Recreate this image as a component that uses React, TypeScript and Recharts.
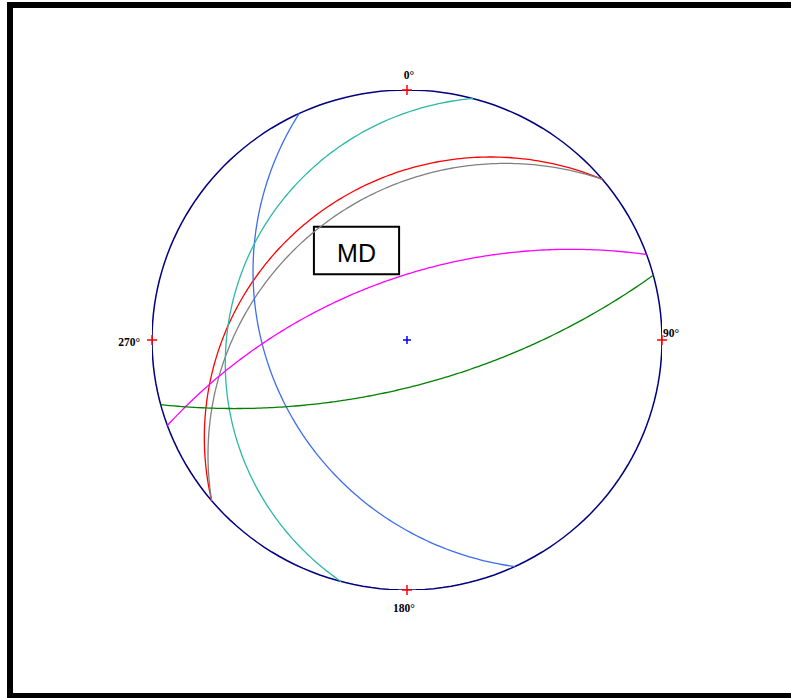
import React from 'react';
import { ComposedChart, Line, XAxis, YAxis, ReferenceDot, ReferenceArea } from 'recharts';

// compass ticks on the primitive
const tickLabels = ['0°', '90°', '180°', '270°'];
const tickAzimuths = [0, 90, 180, 270];

// planes plotted as great circles (strike by right-hand rule, dip in degrees)
const planeNames = ['P1', 'P2', 'P3', 'P4', 'P5', 'P6'];
const strikes = [230, 230, 155, 195, 250, 75];
const dips = [27, 31, 33, 20, 62, 69];
const planeColors = ['#ff0000', '#808080', '#3d6cf0', '#2ab8a8', '#ff00ff', '#008000'];

const boxLabel = 'MD';

const rad = (d: number) => (d * Math.PI) / 180;

// equal-angle (Wulff) lower hemisphere projection of a line
const project = (trend: number, plunge: number) => {
  const r = Math.tan(Math.PI / 4 - plunge / 2);
  return { x: r * Math.sin(trend), y: r * Math.cos(trend) };
};

const greatCircle = (strike: number, dip: number) => {
  const s = rad(strike);
  const dd = rad(strike + 90);
  const d = rad(dip);
  const pts: { x: number; y: number }[] = [];
  for (let a = 0; a <= 180; a += 1) {
    const al = rad(a);
    const e = Math.cos(al) * Math.sin(s) + Math.sin(al) * Math.cos(d) * Math.sin(dd);
    const n = Math.cos(al) * Math.cos(s) + Math.sin(al) * Math.cos(d) * Math.cos(dd);
    const dn = Math.sin(al) * Math.sin(d);
    pts.push(project(Math.atan2(e, n), Math.asin(Math.min(1, dn))));
  }
  return pts;
};

const primitive = Array.from({ length: 181 }, (_, i) => ({
  x: Math.sin(rad(i * 2)),
  y: Math.cos(rad(i * 2)),
}));

const labelOffsets: Record<string, { dx: number; dy: number; anchor: 'start' | 'middle' | 'end' }> = {
  '0°': { dx: 2, dy: -11, anchor: 'middle' },
  '90°': { dx: 1, dy: -3, anchor: 'start' },
  '180°': { dx: -3, dy: 22, anchor: 'middle' },
  '270°': { dx: -12, dy: 6, anchor: 'end' },
};

const Cross = ({ cx, cy, color, size, label }: any) => {
  const off = label ? labelOffsets[label] : null;
  return (
    <g>
      <line x1={cx - size} x2={cx + size} y1={cy} y2={cy} stroke={color} strokeWidth={1.5} />
      <line x1={cx} x2={cx} y1={cy - size} y2={cy + size} stroke={color} strokeWidth={1.5} />
      {off && (
        <text
          x={cx + off.dx}
          y={cy + off.dy}
          textAnchor={off.anchor}
          fontFamily="'Liberation Serif', 'Times New Roman', serif"
          fontWeight="bold"
          fontSize={11.5}
          fill="#000"
        >
          {label}
        </text>
      )}
    </g>
  );
};

const App: React.FC = () => {
  return (
    <div style={{ position: 'absolute', left: 0, top: 0, width: 791, height: 698, overflow: 'hidden', background: '#fff' }}>
      <div
        style={{
          position: 'absolute',
          left: 7,
          top: 2,
          width: 820,
          height: 697,
          border: '6px solid #000',
          boxSizing: 'border-box',
        }}
      />
      <div style={{ position: 'absolute', left: 0, top: 0 }}>
        <ComposedChart width={791} height={698} margin={{ top: 90, right: 129, bottom: 108, left: 152 }}>
          <XAxis type="number" dataKey="x" domain={[-1, 1]} hide allowDataOverflow />
          <YAxis type="number" dataKey="y" domain={[-1, 1]} hide allowDataOverflow />
          <Line
            data={primitive}
            dataKey="y"
            type="linear"
            stroke="#000080"
            strokeWidth={1.5}
            dot={false}
            isAnimationActive={false}
          />
          {planeNames.map((name, i) => (
            <Line
              key={name}
              name={name}
              data={greatCircle(strikes[i], dips[i])}
              dataKey="y"
              type="linear"
              stroke={planeColors[i]}
              strokeWidth={1.3}
              dot={false}
              isAnimationActive={false}
            />
          ))}
          {tickAzimuths.map((az, i) => (
            <ReferenceDot
              key={tickLabels[i]}
              x={Math.round(Math.sin(rad(az)) * 1e6) / 1e6}
              y={Math.round(Math.cos(rad(az)) * 1e6) / 1e6}
              r={5}
              shape={(p: any) => <Cross {...p} color="#ff0000" size={5} label={tickLabels[i]} />}
            />
          ))}
          <ReferenceDot x={0} y={0} r={4} shape={(p: any) => <Cross {...p} color="#0000ff" size={4} />} />
          <ReferenceArea
            x1={-0.365}
            x2={-0.031}
            y1={0.263}
            y2={0.453}
            fill="#fff"
            fillOpacity={1}
            stroke="#000"
            strokeWidth={2}
            label={{ value: boxLabel, position: 'center', fontSize: 25, fill: '#000', fontFamily: "'Liberation Sans', Arial, sans-serif", dy: 3 }}
          />
        </ComposedChart>
      </div>
    </div>
  );
};

export default App;
